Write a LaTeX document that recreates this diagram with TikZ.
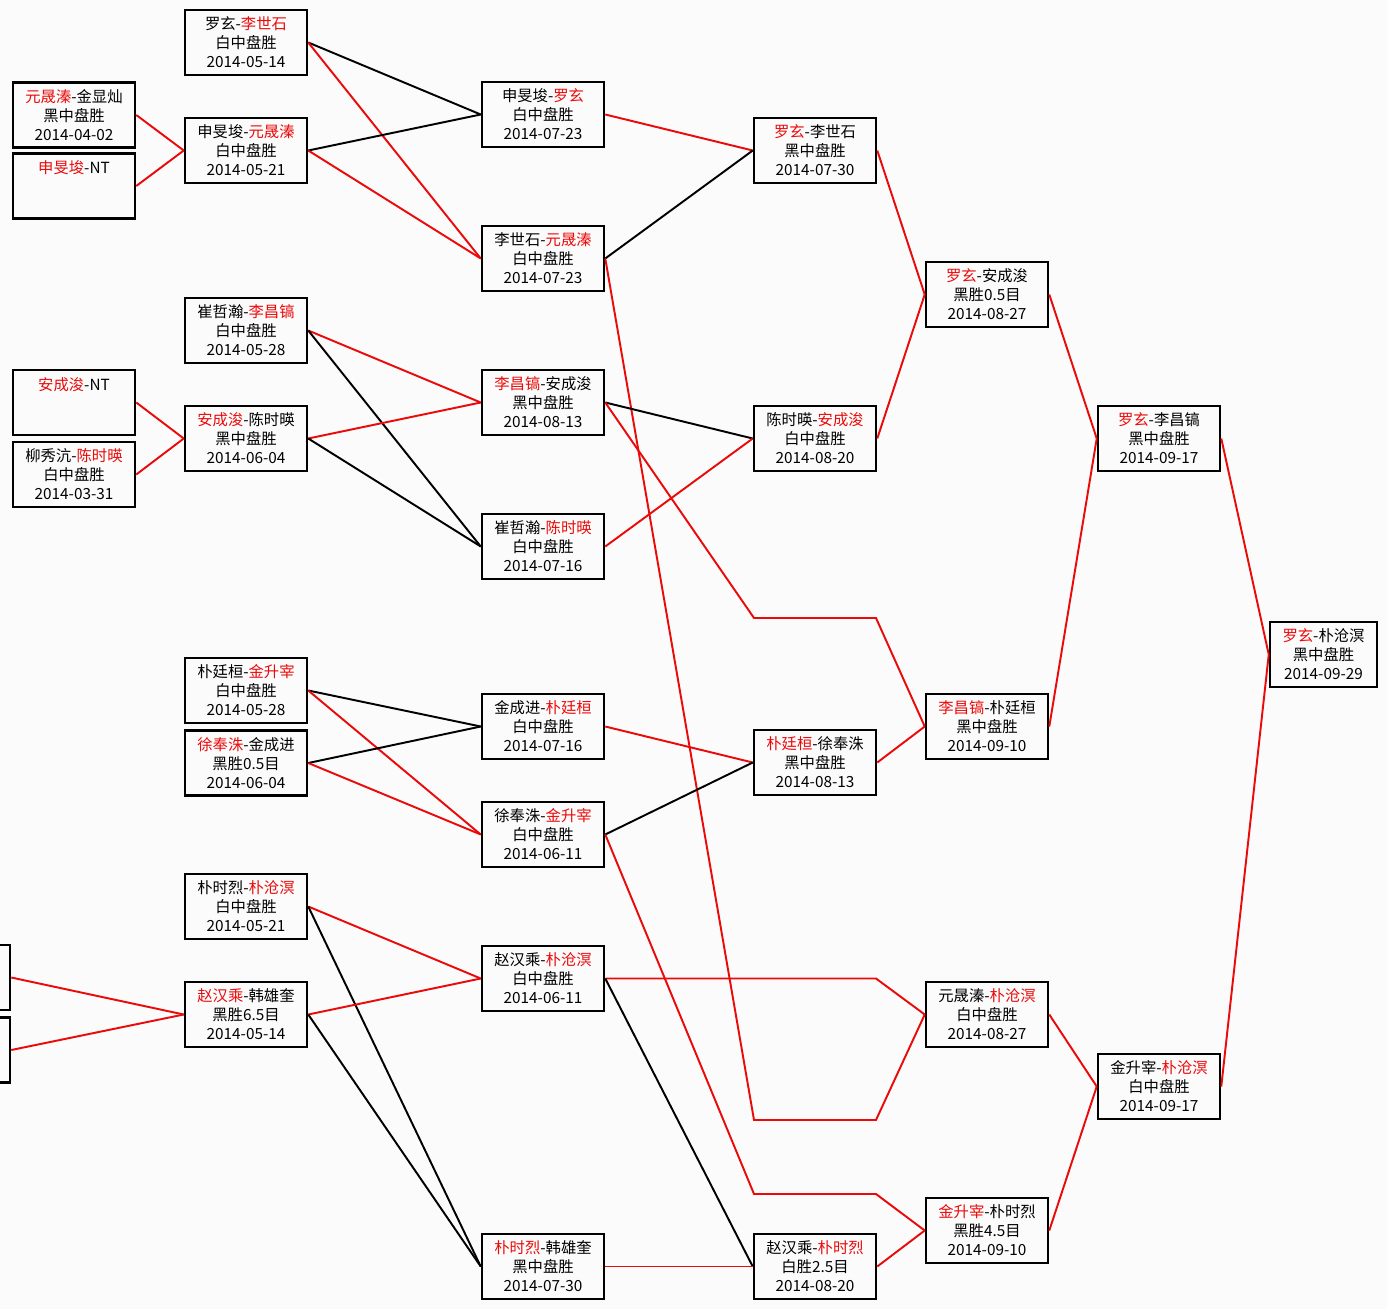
\documentclass[tikz,border=0pt]{standalone}
\usepackage{fontspec}
\setmainfont{Noto Sans CJK SC}
\usepackage{xcolor}
\usepackage{tikz}
\definecolor{winC}{rgb}{0.92,0.04,0.04}
\definecolor{paperC}{rgb}{0.985,0.985,0.985}
\newcommand{\wn}[1]{\textcolor{winC}{#1}}

\begin{document}
\begin{tikzpicture}[
  x=0.75pt, y=-0.75pt,
  box/.style={draw,line width=1.9pt,align=center,inner sep=0pt,
              font=\fontsize{11.5}{14.2}\selectfont,
              minimum width=91.5pt,minimum height=48.75pt},
  win/.style={draw=winC,line width=1.45pt},
  lose/.style={draw=black,line width=1.45pt}
]
  \path[use as bounding box,fill=paperC] (0,0) rectangle (1387,1309);
  \clip (0,0) rectangle (1387,1309);

  % Round 1 (left column, two boxes cut by the edge)
  \node[box] (a1) at (74,115) {\wn{元晟溱}-金显灿\\黑中盘胜\\2014-04-02};
  \node[box] (a2) at (74,186) {\wn{申旻埈}-NT\\\mbox{}\\\mbox{}};
  \node[box] (a3) at (74,402.5) {\wn{安成浚}-NT\\\mbox{}\\\mbox{}};
  \node[box] (a4) at (74,474.5) {柳秀沆-\wn{陈时暎}\\白中盘胜\\2014-03-31};
  \node[box] (z1) at (-51,977.5) {};
  \node[box] (z2) at (-51,1050) {};

  % Round 2
  \node[box] (b1) at (246,42.5) {罗玄-\wn{李世石}\\白中盘胜\\2014-05-14};
  \node[box] (b2) at (246,150.5) {申旻埈-\wn{元晟溱}\\白中盘胜\\2014-05-21};
  \node[box] (b3) at (246,330.5) {崔哲瀚-\wn{李昌镐}\\白中盘胜\\2014-05-28};
  \node[box] (b4) at (246,438.5) {\wn{安成浚}-陈时暎\\黑中盘胜\\2014-06-04};
  \node[box] (b5) at (246,690.5) {朴廷桓-\wn{金升宰}\\白中盘胜\\2014-05-28};
  \node[box] (b6) at (246,763) {\wn{徐奉洙}-金成进\\黑胜0.5目\\2014-06-04};
  \node[box] (b7) at (246,906.5) {朴时烈-\wn{朴沧溟}\\白中盘胜\\2014-05-21};
  \node[box] (b8) at (246,1014.5) {\wn{赵汉乘}-韩雄奎\\黑胜6.5目\\2014-05-14};

  % Round 3
  \node[box] (c1) at (543,114.5) {申旻埈-\wn{罗玄}\\白中盘胜\\2014-07-23};
  \node[box] (c2) at (543,258.5) {李世石-\wn{元晟溱}\\白中盘胜\\2014-07-23};
  \node[box] (c3) at (543,402.5) {\wn{李昌镐}-安成浚\\黑中盘胜\\2014-08-13};
  \node[box] (c4) at (543,546.5) {崔哲瀚-\wn{陈时暎}\\白中盘胜\\2014-07-16};
  \node[box] (c5) at (543,726.5) {金成进-\wn{朴廷桓}\\白中盘胜\\2014-07-16};
  \node[box] (c6) at (543,834.5) {徐奉洙-\wn{金升宰}\\白中盘胜\\2014-06-11};
  \node[box] (c7) at (543,978.5) {赵汉乘-\wn{朴沧溟}\\白中盘胜\\2014-06-11};
  \node[box] (c8) at (543,1266.5) {\wn{朴时烈}-韩雄奎\\黑中盘胜\\2014-07-30};

  % Round 4
  \node[box] (d1) at (815,150.5) {\wn{罗玄}-李世石\\黑中盘胜\\2014-07-30};
  \node[box] (d2) at (815,438.5) {陈时暎-\wn{安成浚}\\白中盘胜\\2014-08-20};
  \node[box] (d3) at (815,762.5) {\wn{朴廷桓}-徐奉洙\\黑中盘胜\\2014-08-13};
  \node[box] (d4) at (815,1266.5) {赵汉乘-\wn{朴时烈}\\白胜2.5目\\2014-08-20};

  % Round 5
  \node[box] (e1) at (987,294.5) {\wn{罗玄}-安成浚\\黑胜0.5目\\2014-08-27};
  \node[box] (e2) at (987,726.5) {\wn{李昌镐}-朴廷桓\\黑中盘胜\\2014-09-10};
  \node[box] (e3) at (987,1014.5) {元晟溱-\wn{朴沧溟}\\白中盘胜\\2014-08-27};
  \node[box] (e4) at (987,1230.5) {\wn{金升宰}-朴时烈\\黑胜4.5目\\2014-09-10};

  % Semi final and final
  \node[box] (f1) at (1159,438.5) {\wn{罗玄}-李昌镐\\黑中盘胜\\2014-09-17};
  \node[box] (f2) at (1159,1086.5) {金升宰-\wn{朴沧溟}\\白中盘胜\\2014-09-17};
  \node[box,minimum width=80.25pt] (final) at (1323.5,654.5)
    {\wn{罗玄}-朴沧溟\\黑中盘胜\\2014-09-29};

  % Round 1 -> 2
  \draw[win] (a1.east) -- (b2.west);
  \draw[win] (a2.east) -- (b2.west);
  \draw[win] (a3.east) -- (b4.west);
  \draw[win] (a4.east) -- (b4.west);
  \draw[win] (z1.east) -- (b8.west);
  \draw[win] (z2.east) -- (b8.west);

  % Round 2 -> 3 (red: winner, black: loser)
  \draw[lose] (b1.east) -- (c1.west);
  \draw[win] (b1.east) -- (c2.west);
  \draw[lose] (b2.east) -- (c1.west);
  \draw[win] (b2.east) -- (c2.west);
  \draw[win] (b3.east) -- (c3.west);
  \draw[lose] (b3.east) -- (c4.west);
  \draw[win] (b4.east) -- (c3.west);
  \draw[lose] (b4.east) -- (c4.west);
  \draw[lose] (b5.east) -- (c5.west);
  \draw[win] (b5.east) -- (c6.west);
  \draw[lose] (b6.east) -- (c5.west);
  \draw[win] (b6.east) -- (c6.west);
  \draw[win] (b7.east) -- (c7.west);
  \draw[lose] (b7.east) -- (c8.west);
  \draw[win] (b8.east) -- (c7.west);
  \draw[lose] (b8.east) -- (c8.west);

  % Round 3 -> 4 / 5
  \draw[win] (c1.east) -- (d1.west);
  \draw[lose] (c2.east) -- (d1.west);
  \draw[win] (c2.east) -- (754,1120) -- (876,1120) -- (e3.west);
  \draw[lose] (c3.east) -- (d2.west);
  \draw[win] (c3.east) -- (754,618) -- (876,618) -- (e2.west);
  \draw[win] (c4.east) -- (d2.west);
  \draw[win] (c5.east) -- (d3.west);
  \draw[lose] (c6.east) -- (d3.west);
  \draw[win] (c6.east) -- (754,1194) -- (876,1194) -- (e4.west);
  \draw[win] (c7.east) -- (876,978.5) -- (e3.west);
  \draw[lose] (c7.east) -- (d4.west);
  \draw[win] (c8.east) -- (d4.west);

  % Round 4 -> 5
  \draw[win] (d1.east) -- (e1.west);
  \draw[win] (d2.east) -- (e1.west);
  \draw[win] (d3.east) -- (e2.west);
  \draw[win] (d4.east) -- (e4.west);

  % Round 5 -> final
  \draw[win] (e1.east) -- (f1.west);
  \draw[win] (e2.east) -- (f1.west);
  \draw[win] (e3.east) -- (f2.west);
  \draw[win] (e4.east) -- (f2.west);
  \draw[win] (f1.east) -- (final.west);
  \draw[win] (f2.east) -- (final.west);
\end{tikzpicture}
\end{document}
